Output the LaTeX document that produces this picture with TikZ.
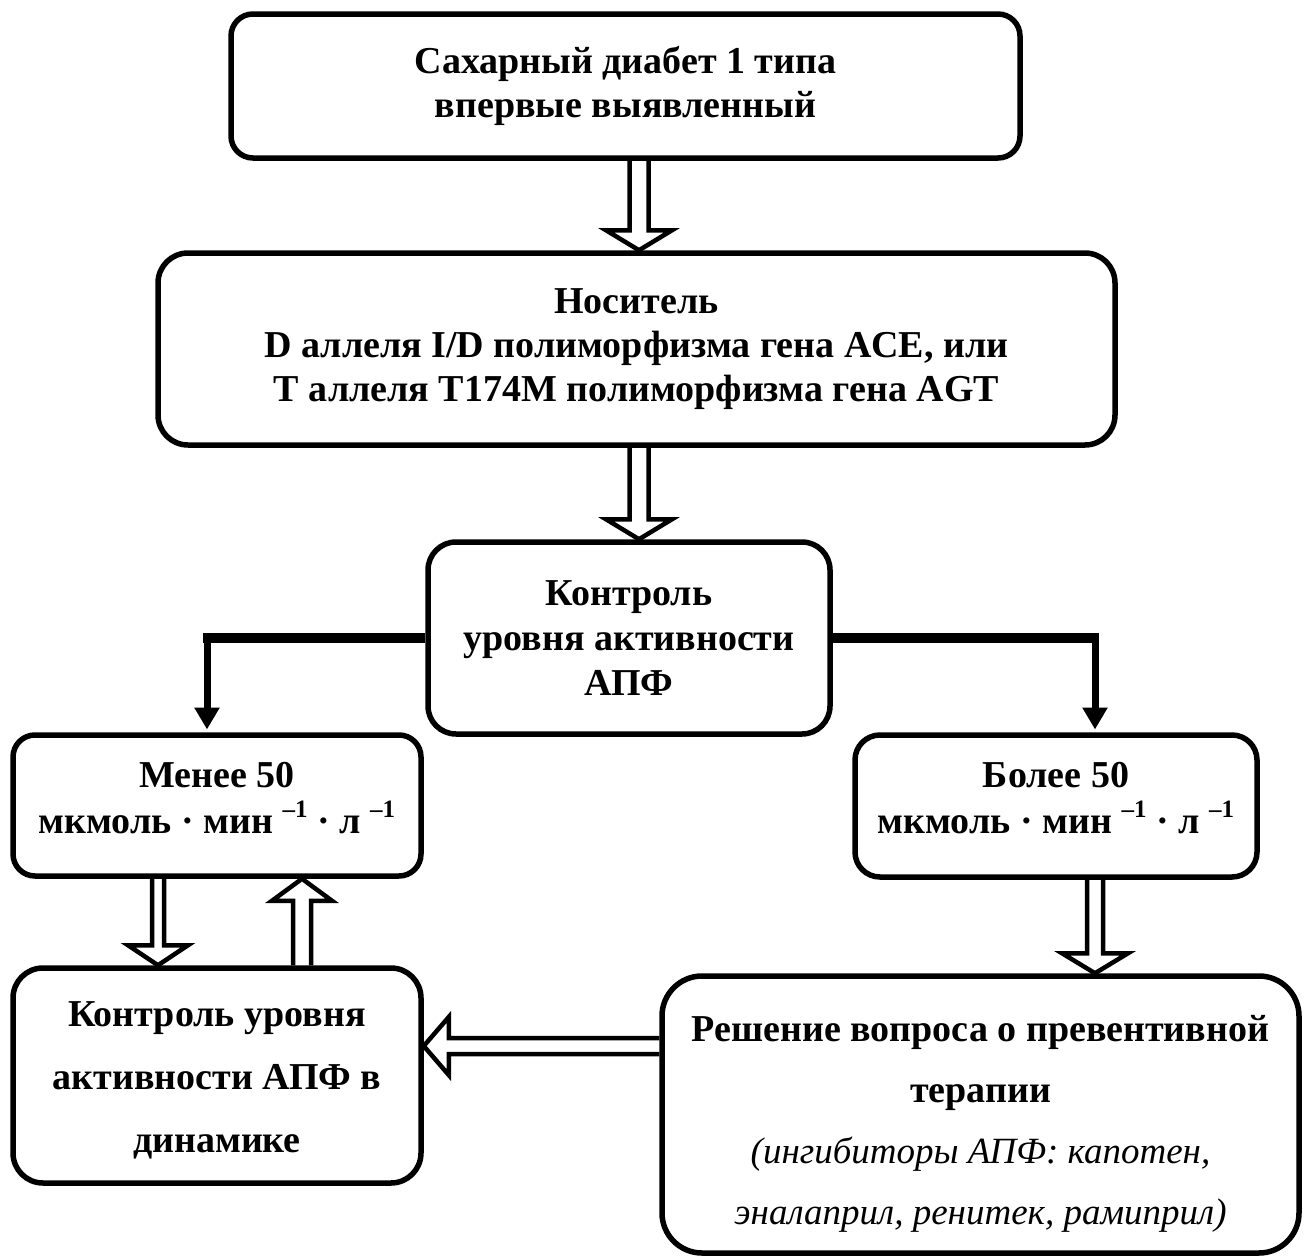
\documentclass[tikz,border=0pt]{standalone}
\usepackage{fontspec}
\setmainfont{Liberation Serif}
\usetikzlibrary{calc,arrows.meta}
\tikzset{
  box/.style={draw, line width=5.5pt, rounded corners=#1, inner sep=0pt, align=center,
    font=\bfseries\fontsize{38}{44}\selectfont},
  box/.default=25pt,
  blockarrow/.style={draw, line width=4.5pt, line join=miter},
  thickline/.style={line width=10pt},
  vline/.style={line width=7pt, -{Triangle[width=24pt,length=22pt]}},
}
\newcommand\barrow[5]{%
  \coordinate (bh) at ($(#2)!#5!(#1)$);
  \draw[blockarrow] ($(#1)!#3!90:(#2)$) -- ($(bh)!#3!90:(#2)$) -- ($(bh)!#4!90:(#2)$) -- (#2)
    -- ($(bh)!#4!-90:(#2)$) -- ($(bh)!#3!-90:(#2)$) -- ($(#1)!#3!-90:(#2)$);
}
\newcommand\mysup{\raisebox{16pt}{\fontsize{25}{25}\selectfont\bfseries –1}}
\newcommand\itline{\itshape\mdseries\fontsize{37}{61}\selectfont}
\begin{document}
\begin{tikzpicture}[x=1pt,y=-1pt]
\useasboundingbox (0,0) rectangle (1304,1258);
\node[box=22pt, minimum width=789pt, minimum height=144pt] (top) at (625.5,86)
  {Сахарный диабет 1 типа\\впервые выявленный};
\node[box=30pt, minimum width=957pt, minimum height=192pt] (b2) at (636.5,349)
  {Носитель\\D аллеля I/D полиморфизма гена ACE, или\\T аллеля T174M полиморфизма гена AGT};
\node[box=28pt, minimum width=402pt, minimum height=192pt,
  font=\bfseries\fontsize{38}{45}\selectfont] (b3) at (629,638)
  {Контроль\\уровня активности\\АПФ};
\node[box=22pt, minimum width=408pt, minimum height=141pt,
  font=\bfseries\fontsize{38}{46}\selectfont] (b4) at (217,805.5)
  {Менее 50\\мкмоль · мин \mysup{} · л \mysup\rule[-16pt]{0pt}{16pt}};
\node[box=25pt, minimum width=402pt, minimum height=142pt,
  font=\bfseries\fontsize{38}{46}\selectfont] (b5) at (1056,806)
  {Более 50\\мкмоль · мин \mysup{} · л \mysup\rule[-16pt]{0pt}{16pt}};
\node[box=30pt, minimum width=408pt, minimum height=215pt,
  font=\bfseries\fontsize{38}{63}\selectfont] (b6) at (217,1075.5)
  {\rule{0pt}{34pt}Контроль уровня\\активности АПФ в\\динамике};
\node[box=40pt, minimum width=637pt, minimum height=277pt,
  font=\bfseries\fontsize{38}{61}\selectfont] (b7) at (980.5,1114.5)
  {\rule{0pt}{44pt}Решение вопроса о превентивной\\терапии\\
   {\itline (ингибиторы АПФ: капотен,}\\
   {\itline эналаприл, ренитек, рамиприл)}};
% block arrows
\coordinate (a1s) at (639,0 |- top.south);
\coordinate (a1e) at (639,0 |- b2.north);
\barrow{a1s}{a1e}{9.5pt}{33pt}{20pt}
\coordinate (a2s) at (639,0 |- b2.south);
\coordinate (a2e) at (639,0 |- b3.north);
\barrow{a2s}{a2e}{9.5pt}{33pt}{20pt}
\coordinate (a3s) at (158,0 |- b4.south);
\coordinate (a3e) at (158,0 |- b6.north);
\barrow{a3s}{a3e}{6pt}{30pt}{20pt}
\coordinate (a4s) at (302,0 |- b6.north);
\coordinate (a4e) at (302,0 |- b4.south);
\barrow{a4s}{a4e}{9pt}{30pt}{22pt}
\coordinate (a5s) at (1095,0 |- b5.south);
\coordinate (a5e) at (1095,0 |- b7.north);
\barrow{a5s}{a5e}{8pt}{33pt}{20pt}
\coordinate (a6s) at (b7.west |- 0,1046);
\coordinate (a6e) at (b6.east |- 0,1046);
\barrow{a6s}{a6e}{8pt}{29pt}{25pt}
% thick connectors
\coordinate (lc) at (207,0 |- b3.west);
\coordinate (rc) at (1095,0 |- b3.east);
\draw[thickline] (b3.west) -- ($(lc)+(-4,0)$);
\draw[vline] ($(lc)+(0,-5)$) -- ($(lc |- b4.north)+(0,-2.75)$);
\draw[thickline] (b3.east) -- ($(rc)+(4,0)$);
\draw[vline] ($(rc)+(0,-5)$) -- ($(rc |- b5.north)+(0,-2.75)$);
\end{tikzpicture}
\end{document}
